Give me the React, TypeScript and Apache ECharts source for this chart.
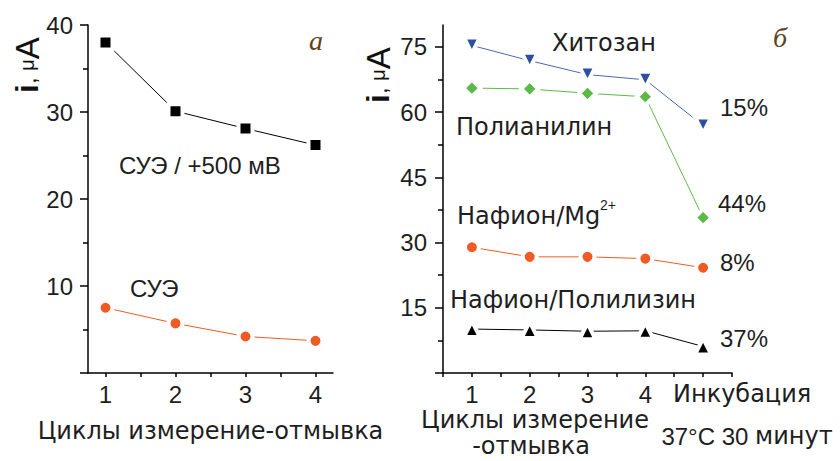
import React, { useEffect, useRef } from 'react';
import * as echarts from 'echarts';

// ---- data ----
const leftX = [1, 2, 3, 4];
const suePlus500 = [38.0, 30.1, 28.1, 26.2];
const sue = [7.5, 5.7, 4.2, 3.7];

const rightX = [1, 2, 3, 4, 5];
const rightXLabels = ['1', '2', '3', '4', 'Инкубация'];
const chitosan = [75.3, 71.8, 68.6, 67.4, 56.9];
const polyaniline = [65.5, 65.3, 64.3, 63.5, 35.7];
const nafionMg = [28.9, 26.7, 26.7, 26.3, 24.2];
const nafionPolylysine = [10.1, 9.9, 9.6, 9.7, 6.1];

const leftYLabels = [10, 20, 30, 40];
const rightYLabels = [15, 30, 45, 60, 75];
const rightYTicks = [0, 15, 30, 45, 60, 75];
const rightYMinorTicks = [7.5, 22.5, 37.5, 52.5, 67.5];
const leftXTicks = [1, 1.5, 2, 2.5, 3, 3.5, 4];
const rightXTicks = [0.5, 1, 1.5, 2, 2.5, 3, 3.5, 4, 4.5, 5, 5.5];

const SANS = 'Liberation Sans, Arial, sans-serif';
const CYR = 'DejaVu Sans, sans-serif';
const TXT = '#1e1e1e';

const pairs = (xs: number[], ys: number[]) => xs.map((x, i) => [x, ys[i]]);

const axisLine = { show: true, onZero: false, lineStyle: { color: '#000', width: 1.5 } };

function App() {
  const ref = useRef<HTMLDivElement>(null);
  useEffect(() => {
    const chart = echarts.init(ref.current!, null, { renderer: 'svg' });

    const serie = (
      name: string,
      idx: number,
      data: number[][],
      color: string,
      symbol: string,
      size: number,
      rotate = 0,
      lineColor?: string
    ) => ({
      name,
      type: 'line',
      xAxisIndex: idx,
      yAxisIndex: idx,
      data,
      symbol,
      symbolSize: size,
      symbolRotate: rotate,
      lineStyle: { color: lineColor || color, width: 1 },
      itemStyle: { color, borderColor: '#fff', borderWidth: 4 },
      z: 3,
    });

    const text = (t: string, x: number, y: number, extra: any = {}) => ({
      type: 'text',
      x,
      y,
      style: {
        text: t,
        fill: TXT,
        fontSize: 24,
        fontFamily: CYR,
        textAlign: 'left',
        textVerticalAlign: 'middle',
        ...extra,
      },
    });

    const yName = (x: number, y: number) => ({
      type: 'text',
      x,
      y,
      rotation: Math.PI / 2,
      style: {
        text: '{i|i}{c|, }{m|μ}{a|A}',
        textAlign: 'center',
        textVerticalAlign: 'middle',
        fill: '#111',
        rich: {
          i: { fontSize: 32, fontWeight: 'bold', fontFamily: SANS, fill: '#111' },
          c: { fontSize: 24, fontFamily: SANS, fill: '#111' },
          m: { fontSize: 20, fontFamily: SANS, fill: '#111' },
          a: { fontSize: 33, fontFamily: SANS, fill: '#111' },
        },
      },
    });

    const option: any = {
      animation: false,
      backgroundColor: '#fff',
      grid: [
        { left: 88, top: 25, width: 245, height: 348 },
        { left: 443, top: 25, width: 289, height: 348 },
      ],
      xAxis: [
        {
          type: 'value',
          gridIndex: 0,
          min: 0.75,
          max: 4.25,
          axisLine,
          axisTick: { show: true, customValues: leftXTicks, length: 4, lineStyle: { color: '#000', width: 1.5 } },
          axisLabel: { customValues: leftX, fontSize: 24, fontFamily: SANS, color: TXT, margin: 9 },
          splitLine: { show: false },
          name: 'Циклы измерение-отмывка',
          nameLocation: 'middle',
          nameGap: 46,
          nameTextStyle: { fontSize: 24, fontFamily: CYR, color: TXT },
        },
        {
          type: 'value',
          gridIndex: 1,
          min: 0.5,
          max: 5.5,
          axisLine,
          axisTick: { show: true, customValues: rightXTicks, length: 4, lineStyle: { color: '#000', width: 1.5 } },
          axisLabel: {
            customValues: rightX,
            fontSize: 24,
            fontFamily: SANS,
            color: TXT,
            margin: 9,
            formatter: (v: number) => {
              const lbl = rightXLabels[rightX.indexOf(v)] ?? '';
              return v === 5 ? '{inc|' + lbl + '}' : lbl;
            },
            rich: {
              inc: { fontSize: 24, fontFamily: CYR, color: TXT, padding: [0, 0, 0, 78] },
            },
          },
          splitLine: { show: false },
        },
      ],
      yAxis: [
        {
          type: 'value',
          gridIndex: 0,
          min: 0,
          max: 40,
          interval: 10,
          axisLine,
          axisTick: { show: true, length: 8, lineStyle: { color: '#000', width: 1.5 } },
          minorTick: { show: true, splitNumber: 2, length: 5, lineStyle: { color: '#000', width: 1.5 } },
          axisLabel: {
            customValues: leftYLabels,
            fontSize: 24,
            fontFamily: SANS,
            color: TXT,
            margin: 15,
          },
          splitLine: { show: false },
          minorSplitLine: { show: false },
        },
        {
          type: 'value',
          gridIndex: 1,
          min: 0,
          max: 80,
          axisLine,
          axisTick: { show: true, customValues: rightYTicks, length: 8, lineStyle: { color: '#000', width: 1.5 } },
          axisLabel: {
            customValues: rightYLabels,
            fontSize: 24,
            fontFamily: SANS,
            color: TXT,
            margin: 16,
          },
          splitLine: { show: false },
        },
        {
          type: 'value',
          gridIndex: 1,
          position: 'left',
          min: 0,
          max: 80,
          axisLine: { show: false },
          axisTick: { show: true, customValues: rightYMinorTicks, length: 5, lineStyle: { color: '#000', width: 1.5 } },
          axisLabel: { show: false },
          splitLine: { show: false },
        },
      ],
      series: [
        serie('СУЭ / +500 мВ', 0, pairs(leftX, suePlus500), '#000', 'rect', 14),
        serie('СУЭ', 0, pairs(leftX, sue), '#f05a24', 'circle', 14),
        serie('Хитозан', 1, pairs(rightX, chitosan), '#2c4f9f', 'triangle', 16, 180, '#4a68b4'),
        serie('Полианилин', 1, pairs(rightX, polyaniline), '#5cb947', 'diamond', 17),
        serie('Нафион/Mg2+', 1, pairs(rightX, nafionMg), '#f05a24', 'circle', 14),
        serie('Нафион/Полилизин', 1, pairs(rightX, nafionPolylysine), '#000', 'triangle', 16),
      ],
      graphic: [
        text('СУЭ / +500 мВ', 119, 165, { fontFamily: SANS }),
        text('СУЭ', 130, 288, { fontFamily: SANS }),
        text('а', 309, 40, { fontFamily: 'Liberation Serif, serif', fontStyle: 'italic', fontSize: 28, fill: '#5b4325' }),
        text('б', 773, 37, { fontFamily: 'Liberation Serif, serif', fontStyle: 'italic', fontSize: 28, fill: '#5b4325' }),
        text('Хитозан', 552, 43),
        text('15%', 720, 107, { fontFamily: SANS }),
        text('Полианилин', 456, 127),
        text('44%', 718, 203, { fontFamily: SANS }),
        text('Нафион/Mg', 457, 216),
        text('2+', 600, 205, { fontFamily: SANS, fontSize: 14 }),
        text('8%', 720, 262, { fontFamily: SANS }),
        text('Нафион/Полилизин', 450, 300),
        text('37%', 720, 338, { fontFamily: SANS }),
        text('Циклы измерение', 535, 420, { textAlign: 'center' }),
        text('-отмывка', 531, 446, { textAlign: 'center' }),
        {
          type: 'text',
          x: 747,
          y: 436,
          style: {
            text: '{n|37°C 30 }{c|минут}',
            textAlign: 'center',
            textVerticalAlign: 'middle',
            fill: TXT,
            rich: {
              n: { fontSize: 24, fontFamily: SANS, fill: TXT },
              c: { fontSize: 24, fontFamily: CYR, fill: TXT },
            },
          },
        },
        yName(27, 65),
        yName(378, 75),
      ],
    };

    chart.setOption(option);
    return () => chart.dispose();
  }, []);
  return <div ref={ref} style={{ position: 'fixed', left: 0, top: 0, width: 840, height: 461 }} />;
}

export default App;
